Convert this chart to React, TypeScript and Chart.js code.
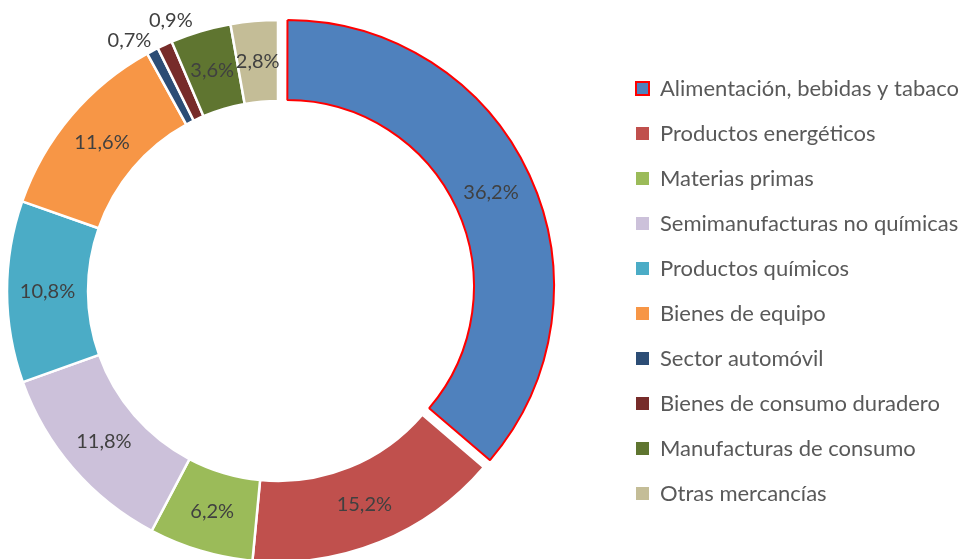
import React, { useEffect, useRef } from 'react';
import { Chart, registerables } from 'chart.js';

Chart.register(...registerables);

const categories = [
  'Alimentación, bebidas y tabaco',
  'Productos energéticos',
  'Materias primas',
  'Semimanufacturas no químicas',
  'Productos químicos',
  'Bienes de equipo',
  'Sector automóvil',
  'Bienes de consumo duradero',
  'Manufacturas de consumo',
  'Otras mercancías',
];

const shares = [36.2, 15.2, 6.2, 11.8, 10.8, 11.6, 0.7, 0.9, 3.6, 2.8];

const sliceColors = [
  '#4F81BD',
  '#C0504D',
  '#9BBB59',
  '#CCC1DA',
  '#4BACC6',
  '#F79646',
  '#2C4D75',
  '#772C2A',
  '#5F7530',
  '#C4BD97',
];

const sliceBorderColors = ['#FF0000', '#FFFFFF', '#FFFFFF', '#FFFFFF', '#FFFFFF', '#FFFFFF', '#FFFFFF', '#FFFFFF', '#FFFFFF', '#FFFFFF'];
const sliceBorderWidths = [2, 2.5, 2.5, 2.5, 2.5, 2.5, 2.5, 2.5, 2.5, 2.5];
const sliceOffsets = [40, 0, 0, 0, 0, 0, 0, 0, 0, 0];

const W = 961;
const H = 559;
const CENTER_X = 278;
const OUTER_R = 271;
const CUTOUT = '70.1%';
const FONT_FAMILY = 'Lato';
const LEGEND_FONT = 22;
const LEGEND_BOX = 13;
const LEGEND_PAD = 23;
const LEGEND_BOX_X = 636;
const PAD_TOP = 23;
const LABEL_FONT = 20;
// exploded slice is drawn a little smaller, as in the original
const EXPLODED_OUTER_SHRINK = 6.5;
const EXPLODED_INNER_SHRINK = 5.5;

const fmt = (v: number) => v.toFixed(1).replace('.', ',') + '%';

const shrinkPlugin = {
  id: 'explodedShrink',
  afterDatasetUpdate(chart: any) {
    const meta = chart.getDatasetMeta(0);
    meta.data.forEach((arc: any, i: number) => {
      if (sliceOffsets[i] > 0) {
        arc.outerRadius -= EXPLODED_OUTER_SHRINK;
        arc.innerRadius -= EXPLODED_INNER_SHRINK;
      }
    });
  },
};

const labelPlugin = {
  id: 'sliceLabels',
  afterDatasetsDraw(chart: any) {
    const ctx = chart.ctx as CanvasRenderingContext2D;
    const meta = chart.getDatasetMeta(0);
    ctx.save();
    ctx.font = `${LABEL_FONT}px ${FONT_FAMILY}`;
    ctx.fillStyle = '#404040';
    ctx.textAlign = 'center';
    ctx.textBaseline = 'middle';
    const outside: any[] = [];
    meta.data.forEach((arc: any, i: number) => {
      const p = arc.getProps(['x', 'y', 'startAngle', 'endAngle', 'innerRadius', 'outerRadius'], true);
      const mid = (p.startAngle + p.endAngle) / 2;
      const text = fmt(shares[i]);
      const off = (arc.options.offset || 0) / 4;
      if (shares[i] < 1) {
        outside.push({
          text,
          ang: mid,
          cx: p.x,
          cy: p.y,
          r: p.outerRadius + 20,
          w: ctx.measureText(text).width + 2,
        });
      } else {
        const r = (p.innerRadius + p.outerRadius) / 2;
        ctx.fillText(text, p.x + Math.cos(mid) * (r + off), p.y + Math.sin(mid) * (r + off));
      }
    });
    const pos = (o: any) => ({ x: o.cx + Math.cos(o.ang) * o.r, y: o.cy + Math.sin(o.ang) * o.r });
    const BOX_H = 20;
    for (let k = 0; k < 500; k++) {
      let moved = false;
      for (let j = 1; j < outside.length; j++) {
        const a = outside[j - 1];
        const b = outside[j];
        const pa = pos(a);
        const pb = pos(b);
        if (Math.abs(pa.x - pb.x) < (a.w + b.w) / 2 && Math.abs(pa.y - pb.y) < BOX_H) {
          a.ang -= 0.002;
          b.ang += 0.002;
          moved = true;
        }
      }
      if (!moved) break;
    }
    outside.forEach((o) => {
      const p = pos(o);
      ctx.fillText(o.text, p.x, p.y);
    });
    ctx.restore();
  },
};

function makeConfig(padRight: number): any {
  const baseGen = (Chart as any).overrides.doughnut.plugins.legend.labels.generateLabels;
  return {
    type: 'doughnut',
    data: {
      labels: categories,
      datasets: [
        {
          data: shares,
          backgroundColor: sliceColors,
          borderColor: sliceBorderColors,
          borderWidth: sliceBorderWidths,
          offset: sliceOffsets,
          hoverOffset: 0,
        },
      ],
    },
    options: {
      responsive: false,
      animation: false,
      radius: OUTER_R,
      cutout: CUTOUT,
      layout: { padding: { left: 0, right: padRight, top: PAD_TOP, bottom: 0 } },
      plugins: {
        tooltip: { enabled: false },
        legend: {
          position: 'right',
          labels: {
            boxWidth: LEGEND_BOX,
            boxHeight: LEGEND_BOX,
            padding: LEGEND_PAD,
            color: '#595959',
            font: { family: FONT_FAMILY, size: LEGEND_FONT },
            generateLabels: (c: any) =>
              baseGen(c).map((it: any, i: number) => ({ ...it, lineWidth: i === 0 ? 2 : 0 })),
          },
        },
      },
    },
    plugins: [shrinkPlugin, labelPlugin],
  };
}

export default function App() {
  const ref = useRef<HTMLCanvasElement>(null);

  useEffect(() => {
    const canvas = ref.current;
    if (!canvas) return;
    // first pass: measure where the legend lands
    let chart: any = new Chart(canvas, makeConfig(3));
    const boxX = chart.legend.legendHitBoxes[0].left;
    const legLeft = chart.legend.left;
    chart.destroy();
    const shift = boxX - LEGEND_BOX_X;
    const padRight = 3 + shift;
    const extra = Math.round(legLeft - shift - 2 * CENTER_X);
    canvas.width = W + extra;
    canvas.height = H;
    canvas.style.display = 'block';
    canvas.style.marginLeft = `${-extra}px`;
    chart = new Chart(canvas, makeConfig(padRight));
    return () => chart.destroy();
  }, []);

  return (
    <div style={{ position: 'absolute', left: 0, top: 0, width: W, height: H, overflow: 'hidden', background: '#fff' }}>
      <canvas ref={ref} width={W} height={H} style={{ display: 'block' }} />
    </div>
  );
}
